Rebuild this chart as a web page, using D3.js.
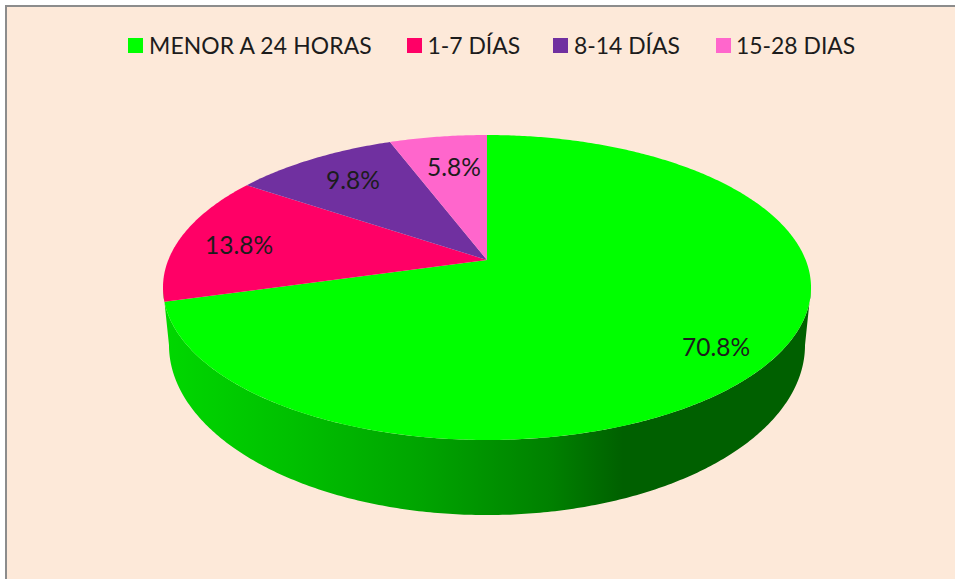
<!DOCTYPE html>
<html>
<head>
<meta charset="utf-8">
<script src="https://cdn.jsdelivr.net/npm/d3@7"></script>
<style>
html,body{margin:0;padding:0;background:#fff;}
svg{display:block;}
text{font-family:Lato,"Open Sans",sans-serif;fill:#1c1c1c;}
</style>
</head>
<body>
<svg id="chart" width="955" height="579"></svg>
<script>
const categories = ["MENOR A 24 HORAS", "1-7 DÍAS", "8-14 DÍAS", "15-28 DIAS"];
const values = [70.8, 13.8, 9.8, 5.8];
const labels = ["70.8%", "13.8%", "9.8%", "5.8%"];
const colors = ["#00ff00", "#ff0066", "#7030a0", "#ff66cc"];

const svg = d3.select("#chart");
svg.append("rect").attr("x",5).attr("y",5).attr("width",950).attr("height",574).attr("fill","#FDE9D9");
svg.append("path").attr("d","M6,579V6H955").attr("fill","none").attr("stroke","#8c8c8c").attr("stroke-width",2);

// Perspective projection of a disc (Excel-style 3D pie)
const persp = -0.1803;
const topFace = {cx:487, k:318.7, a:100.66, b:260};
const botFace = {cx:487, k:312.8, a:107.8, b:314.4};
function proj(face, angle){
  const u = Math.sin(angle), v = -Math.cos(angle), d = 1 + persp*v;
  return [face.cx + face.k*u/d, (face.a*v + face.b)/d];
}
function arcPts(face, a0, a1){
  const n = Math.max(2, Math.ceil(Math.abs(a1-a0)/0.01));
  return d3.range(n+1).map(i => proj(face, a0 + (a1-a0)*i/n));
}
const line = d3.line();

// Side wall, with left-to-right shading
const defs = svg.append("defs");
const grad = defs.append("linearGradient").attr("id","side").attr("gradientUnits","userSpaceOnUse")
  .attr("x1",163).attr("x2",811).attr("y1",0).attr("y2",0);
[[0,"#00d800"],[0.2,"#00c000"],[0.4,"#00a400"],[0.6,"#008000"],[0.71,"#006000"],[1,"#006000"]]
  .forEach(s => grad.append("stop").attr("offset",s[0]).attr("stop-color",s[1]));

const arcs = d3.pie().sort(null).value(d => d)(values);
const right = Math.acos(-0.1803), left = 2*Math.PI - right;
svg.append("path")
  .attr("d", line([...arcPts(topFace,right,left), ...arcPts(botFace,left,right)]) + "Z")
  .attr("fill","url(#side)");

// Top face slices
svg.selectAll("path.slice").data(arcs).join("path").attr("class","slice")
  .attr("d", d => line([[topFace.cx, topFace.b], ...arcPts(topFace,d.startAngle,d.endAngle)]) + "Z")
  .attr("fill",(d,i) => colors[i]);

// Data labels
const labelAt = [[716,350],[239,248],[353,183],[454,170]];
svg.selectAll("text.lab").data(labels).join("text").attr("class","lab")
  .attr("x",(d,i)=>labelAt[i][0]).attr("y",(d,i)=>labelAt[i][1])
  .attr("text-anchor","middle").attr("dominant-baseline","middle")
  .attr("font-size",24.5).text(d=>d);

// Legend
const legendX = [128,407,553,716];
const textX = [149,427.5,574,736];
const lg = svg.selectAll("g.lg").data(categories).join("g").attr("class","lg");
lg.append("rect").attr("x",(d,i)=>legendX[i]).attr("y",38).attr("width",15).attr("height",15)
  .attr("fill",(d,i)=>colors[i]);
lg.append("text").attr("x",(d,i)=>textX[i]).attr("y",54)
  .attr("letter-spacing",(d,i)=>i===0?0.13:0)
  .attr("font-size",22.9).text(d=>d);
</script>
</body>
</html>
